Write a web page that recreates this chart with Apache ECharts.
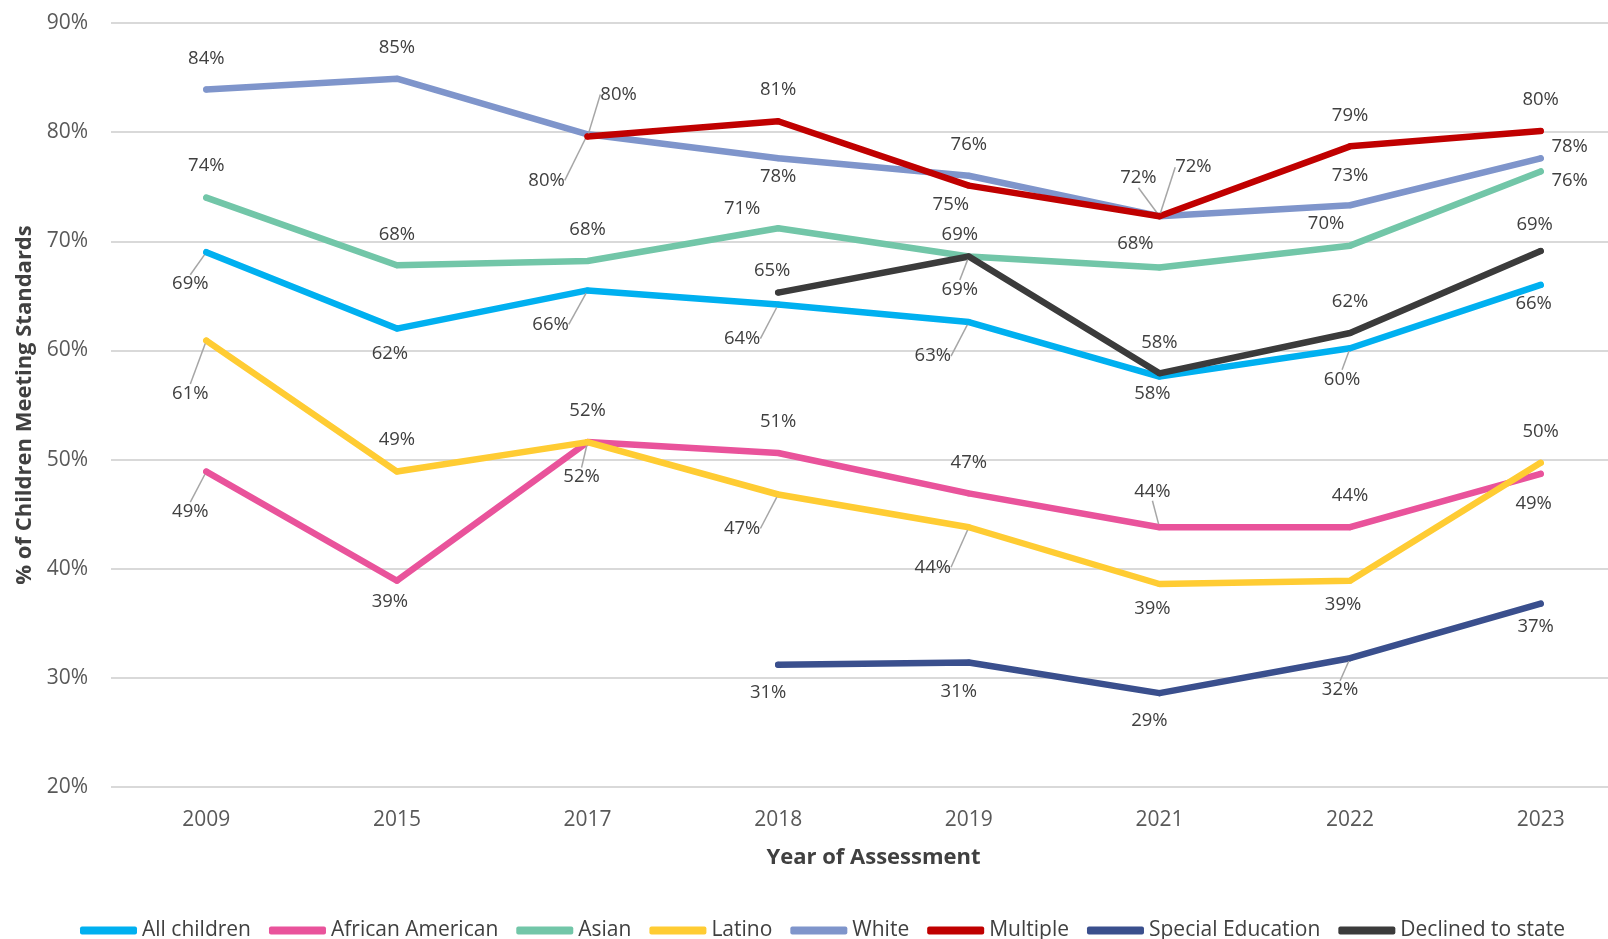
<!DOCTYPE html>
<html>
<head>
<meta charset="utf-8">
<script src="https://cdn.jsdelivr.net/npm/echarts@6/dist/echarts.min.js"></script>
<style>
html,body{margin:0;padding:0;background:#fff;}
#chart{width:1608px;height:939px;}
</style>
</head>
<body>
<div id="chart"></div>
<script>
// ---- data ----
const years = ['2009','2015','2017','2018','2019','2021','2022','2023'];
const seriesNames = ['All children','African American','Asian','Latino','White','Multiple','Special Education','Declined to state'];
const allChildren      = [69.0, 62.0, 65.5, 64.2, 62.6, 57.6, 60.2, 66.0];
const africanAmerican  = [48.9, 38.9, 51.6, 50.6, 46.9, 43.8, 43.8, 48.7];
const asian            = [74.0, 67.8, 68.2, 71.2, 68.6, 67.6, 69.6, 76.4];
const latino           = [60.9, 48.9, 51.6, 46.8, 43.8, 38.6, 38.9, 49.7];
const white            = [83.9, 84.9, 79.8, 77.6, 76.0, 72.3, 73.3, 77.6];
const multiple         = [null, null, 79.6, 81.0, 75.1, 72.3, 78.7, 80.1];
const specialEducation = [null, null, null, 31.2, 31.4, 28.6, 31.8, 36.8];
const declinedToState  = [null, null, null, 65.3, 68.6, 57.9, 61.6, 69.1];
const yTicks = [20, 30, 40, 50, 60, 70, 80, 90];

// ---- styling / label placement (not data) ----
const colors = ['#00B0F0','#E9539B','#72C6A8','#FFCC33','#7F95CB','#C00000','#3A4F8D','#3B3B3B'];
const labelOffsets = [
  [[-16,32],[-7,25],[-37,34],[-36,34],[-36,34],[-7,17],[-8,31],[-7,19]],
  [[-16,40],[-7,21],[-6,35],[0,-31],[0,-31],[-7,-36],[0,-32],[-7,30]],
  [[0,-32],[0,-31],[0,-31],[-36,-19],[-9,-22],[-24,-24],[-24,-22],[29,9]],
  [[-16,53],[0,-32],[0,-31],[-36,34],[-36,40],[-7,25],[-7,24],[0,-31]],
  [[0,-31],[0,-31],[-41,46],[0,18],[0,-31],[-21,-38],[0,-30],[29,-12]],
  [[0,0],[0,0],[31,-42],[0,-31],[-18,19],[34,-49],[0,-31],[0,-31]],
  [[0,0],[0,0],[0,0],[-10,28],[-10,29],[-10,28],[-10,32],[-5,23]],
  [[0,0],[0,0],[0,0],[-6,-22],[-9,33],[0,-31],[0,-31],[-6,-26]]
];
const leaders = [
  [1,0,1,1,1,0,1,0],
  [1,0,1,0,0,1,0,0],
  [0,0,0,0,0,0,0,0],
  [1,0,0,1,1,0,0,0],
  [0,0,1,0,0,1,0,0],
  [0,0,1,0,0,1,0,0],
  [0,0,0,0,0,0,1,0],
  [0,0,0,0,1,0,0,0]
];

const allValues = [allChildren, africanAmerican, asian, latino, white, multiple, specialEducation, declinedToState];
const FONT = "'Open Sans', 'Liberation Sans', sans-serif";

const chart = echarts.init(document.getElementById('chart'), null, {renderer:'canvas'});

const series = allValues.map((vals, si) => ({
  name: seriesNames[si],
  type: 'line',
  data: vals.map((v, di) => v == null ? null : {
    value: v,
    labelLine: { show: !!leaders[si][di] }
  }),
  connectNulls: false,
  symbol: 'circle',
  symbolSize: 6,
  showSymbol: true,
  itemStyle: { color: colors[si] },
  lineStyle: { width: 6.5, color: colors[si], cap: 'round', join: 'round' },
  label: {
    show: true,
    position: 'inside',
    formatter: p => Math.round(p.value) + '%',
    fontFamily: FONT,
    fontSize: 18.5,
    color: '#404040'
  },
  labelLine: { show: false, lineStyle: { color: '#A6A6A6', width: 1.5 } },
  labelLayout: function (p) {
    const o = labelOffsets[p.seriesIndex][p.dataIndex] || [0, 0];
    return { dx: o[0], dy: o[1] };
  },
  emphasis: { disabled: true },
  z: 2 + si
}));

const option = {
  animation: false,
  backgroundColor: '#ffffff',
  grid: { left: 111, width: 1525, top: 23, bottom: 152, containLabel: false, outerBoundsMode: 'none' },
  legend: {
    data: seriesNames,
    left: 80,
    top: 920,
    padding: 0,
    icon: 'roundRect',
    itemWidth: 57,
    itemHeight: 8,
    itemGap: 18,
    textStyle: { fontFamily: FONT, fontSize: 21, color: '#404040' }
  },
  xAxis: {
    type: 'category',
    data: years,
    boundaryGap: true,
    axisLine: { show: false },
    axisTick: { show: false },
    axisLabel: { fontFamily: FONT, fontSize: 21, color: '#595959', margin: 23 },
    name: 'Year of Assessment',
    nameLocation: 'middle',
    nameGap: 60,
    nameTextStyle: { fontFamily: FONT, fontSize: 22, fontWeight: 'bold', color: '#404040' }
  },
  yAxis: {
    type: 'value',
    min: yTicks[0],
    max: yTicks[yTicks.length - 1],
    interval: 10,
    axisLine: { show: false },
    axisTick: { show: false },
    axisLabel: { fontFamily: FONT, fontSize: 21, color: '#595959', margin: 23, formatter: '{value}%' },
    splitLine: { lineStyle: { color: '#D9D9D9', width: 2 } },
    name: '% of Children Meeting Standards',
    nameLocation: 'middle',
    nameGap: 71,
    nameTextStyle: { fontFamily: FONT, fontSize: 22, fontWeight: 'bold', color: '#404040' }
  },
  series: series
};
chart.setOption(option);
</script>
</body>
</html>
